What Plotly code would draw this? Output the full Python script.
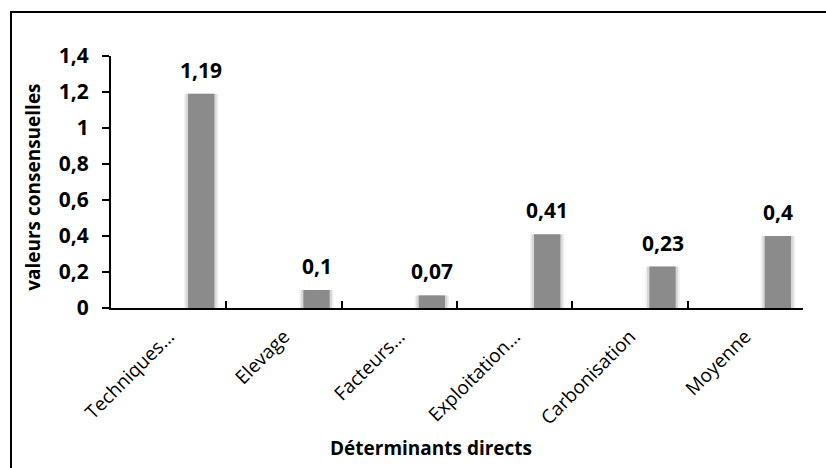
import plotly.graph_objects as go

# Consensus values per direct determinant
categories = ["Techniques…", "Elevage", "Facteurs…", "Exploitation…", "Carbonisation", "Moyenne"]
values = [1.19, 0.10, 0.07, 0.41, 0.23, 0.40]
y_ticks = [0, 0.2, 0.4, 0.6, 0.8, 1.0, 1.2, 1.4]

FONT = "Open Sans"
BAR_W = 0.228
BAR_OFF = 0.168

fig = go.Figure()

# soft shadow layers behind each bar
for spread, alpha in [(0.07, 0.06), (0.04, 0.10)]:
    fig.add_trace(go.Bar(
        x=categories, y=values,
        width=BAR_W + spread, offset=BAR_OFF - spread / 2,
        marker=dict(color=f"rgba(0,0,0,{alpha})", line=dict(width=0)),
        hoverinfo="skip", showlegend=False,
    ))

# main bars
fig.add_trace(go.Bar(
    x=categories, y=values,
    width=BAR_W, offset=BAR_OFF,
    marker=dict(color="#8b8b8b", line=dict(width=0)),
    showlegend=False,
))

# value labels above bars
for i, (c, v) in enumerate(zip(categories, values)):
    fig.add_annotation(
        x=i + BAR_OFF + BAR_W / 2, y=v, xref="x", yref="y",
        text=f"{v:g}".replace(".", ","),
        showarrow=False, yanchor="bottom", yshift=8,
        font=dict(family=FONT, size=21, color="black", weight="bold"),
    )

# axis titles
fig.add_annotation(
    x=-0.113, y=0.48, xref="paper", yref="paper",
    xanchor="center", yanchor="middle",
    text="valeurs consensuelles", textangle=-90, showarrow=False,
    font=dict(family=FONT, size=19, color="black", weight="bold"),
)
fig.add_annotation(
    x=0.462, y=-0.556, xref="paper", yref="paper",
    xanchor="center", yanchor="middle",
    text="Déterminants directs", showarrow=False,
    font=dict(family=FONT, size=19, color="black", weight="bold"),
)

# chart frame
fig.add_shape(
    type="rect", xref="paper", yref="paper",
    x0=-0.1445, y0=-0.8, x1=1.2, y1=1.1746,
    line=dict(color="black", width=2), fillcolor="rgba(0,0,0,0)", layer="below",
)

fig.update_layout(
    width=826, height=468,
    margin=dict(l=111, r=23, t=56, b=160),
    paper_bgcolor="white", plot_bgcolor="white",
    barmode="overlay",
    separators=", ",
    font=dict(family=FONT, color="black"),
)
fig.update_xaxes(
    type="category", range=[-0.5, 5.5],
    showline=True, linecolor="black", linewidth=2,
    ticks="inside", tickson="boundaries", ticklen=7, tickwidth=2, tickcolor="black",
    tickangle=-45, tickfont=dict(family=FONT, size=19, color="black"),
    ticklabelstandoff=8,
    showgrid=False, zeroline=False,
)
fig.update_yaxes(
    range=[0, 1.4], tickvals=y_ticks,
    showline=True, linecolor="black", linewidth=2,
    ticks="outside", ticklen=7, tickwidth=2, tickcolor="black",
    tickfont=dict(family=FONT, size=21, color="black", weight="bold"),
    ticklabelstandoff=9,
    showgrid=False, zeroline=False,
)

fig.write_html("out.html")
